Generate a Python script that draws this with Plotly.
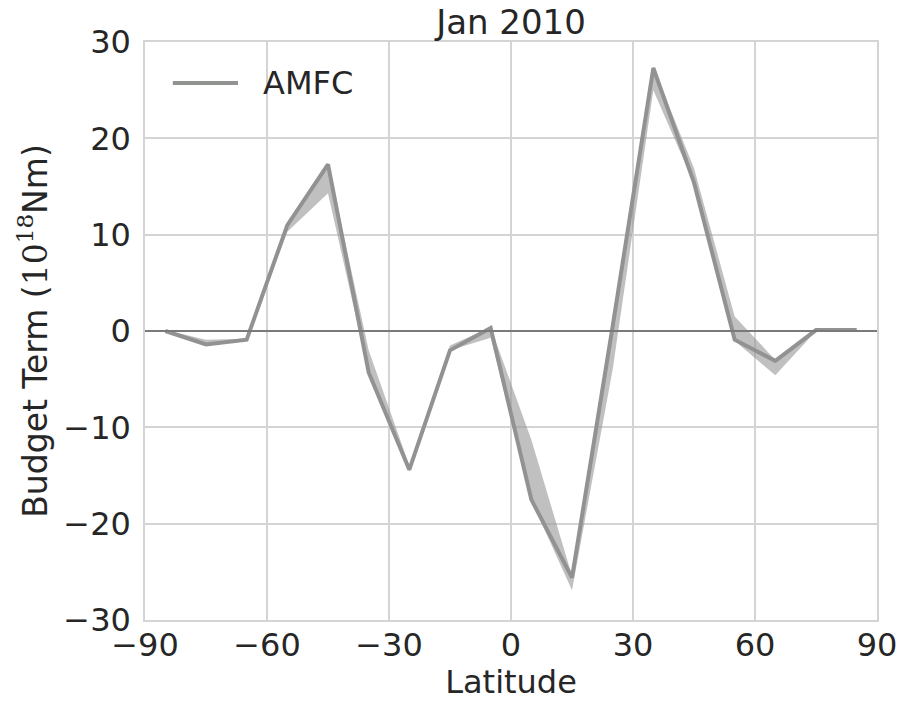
import plotly.graph_objects as go

# Zonal-mean AMFC budget term, January 2010
latitude = [-85, -75, -65, -55, -45, -35, -25, -15, -5, 5, 15, 25, 35, 45, 55, 65, 75, 85]
amfc = [0.0, -1.4, -0.9, 11.0, 17.3, -4.3, -14.4, -2.0, 0.3, -17.5, -25.6, 0.5, 27.3, 15.4, -0.9, -3.1, 0.1, 0.1]
amfc_low = [0.0, -1.4, -0.9, 10.3, 14.3, -4.4, -14.6, -2.0, -0.7, -17.6, -26.9, -4.0, 25.0, 15.3, -1.0, -4.6, 0.0, 0.1]
amfc_high = [0.1, -0.9, -0.8, 11.1, 17.4, -2.0, -14.0, -1.5, 0.4, -11.3, -25.4, 0.8, 27.4, 16.9, 1.5, -3.0, 0.2, 0.2]

x_ticks = [-90, -60, -30, 0, 30, 60, 90]
y_ticks = [-30, -20, -10, 0, 10, 20, 30]

FONT = "DejaVu Sans"
TEXT = "#262626"
GRID = "#d4d4d4"
LINE = "#919391"

fig = go.Figure()

# spread band
fig.add_trace(go.Scatter(
    x=latitude + latitude[::-1],
    y=amfc_high + amfc_low[::-1],
    fill="toself",
    fillcolor="rgba(150,150,150,0.6)",
    line=dict(width=0),
    hoverinfo="skip",
    showlegend=False,
))

fig.add_hline(y=0, line=dict(color="#7a7a7a", width=2), layer="above")

fig.add_trace(go.Scatter(
    x=latitude, y=amfc, mode="lines", name="AMFC",
    line=dict(color=LINE, width=4), showlegend=False,
))

# legend entry: long line sample plus label, upper left inside the axes
fig.add_shape(type="line", xref="paper", yref="paper",
              x0=0.038, x1=0.127, y0=0.929, y1=0.929,
              line=dict(color=LINE, width=4))
fig.add_annotation(text="AMFC", xref="paper", yref="paper",
                   x=0.158, y=0.929, xanchor="left", yanchor="middle",
                   showarrow=False, font=dict(family=FONT, size=32, color=TEXT))

fig.update_layout(
    width=915, height=701,
    margin=dict(l=145, r=38, t=42, b=81),
    paper_bgcolor="white", plot_bgcolor="white",
    font=dict(family=FONT, size=32, color=TEXT),
    title=dict(text="Jan 2010", x=0.5, xref="paper", xanchor="center",
               y=1.0, yref="paper", yanchor="bottom", pad=dict(b=8),
               font=dict(family=FONT, size=34, color=TEXT)),
    showlegend=False,
)

fig.update_xaxes(
    range=[-90, 90], tickmode="array", tickvals=x_ticks,
    showgrid=True, gridcolor=GRID, gridwidth=1.5, zeroline=False,
    showline=True, linecolor=GRID, linewidth=1.5, mirror=True,
    ticks="", ticklabelstandoff=-4, automargin=False,
    tickfont=dict(size=32, color=TEXT),
    title=dict(text="Latitude", font=dict(size=32, color=TEXT), standoff=8),
)
fig.update_yaxes(
    range=[-30, 30], tickmode="array", tickvals=y_ticks,
    showgrid=True, gridcolor=GRID, gridwidth=1.5, zeroline=False,
    showline=True, linecolor=GRID, linewidth=1.5, mirror=True,
    ticks="", ticklabelstandoff=6, automargin=False,
    tickfont=dict(size=32, color=TEXT),
    title=dict(text='Budget Term (<span style="font-family:DejaVu Serif">10<sup>18</sup></span>Nm)',
               font=dict(size=33, color=TEXT), standoff=6),
)

fig.write_html("out.html")
